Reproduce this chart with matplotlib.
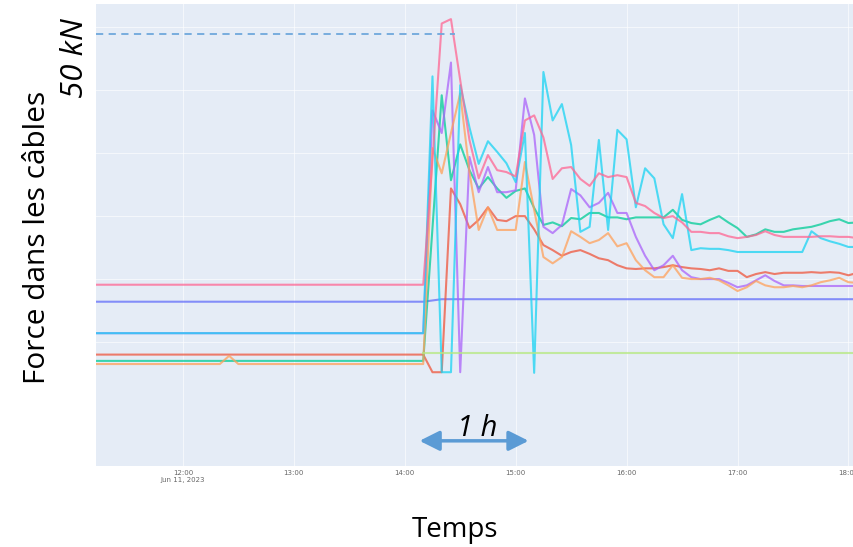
import numpy as np
import pandas as pd
import matplotlib
matplotlib.use("Agg")
import matplotlib.pyplot as plt
import matplotlib.dates as mdates

day = "2023-06-11 "

# x axis: hourly ticks (first one carries the date, plotly style)
tick_hours = ["12:00", "13:00", "14:00", "15:00", "16:00", "17:00", "18:00"]
tick_labels = ["12:00\nJun 11, 2023", "13:00", "14:00", "15:00", "16:00", "17:00", "18:00"]
grid_values = [0, 10, 20, 30, 40, 50]

# flat part before the load step (kN)
pre_times = ["11:10", "14:10"]
orange_pre_times = ["11:10", "12:20", "12:25", "12:30", "14:10"]

# samples every 5 min from 14:15 to 18:05
post_times = pd.date_range(day + "14:15", day + "18:05", freq="5min")

blue_times = ["11:10", "14:10", "14:20", "18:05"]
blue_vals = [6.4, 6.4, 6.8, 6.8]

lime_times = ["14:10", "18:05"]
lime_vals = [-1.75, -1.75]

red_pre = [-2.0, -2.0]
red_post = [-4.8, -4.8, 24.4, 21.9, 18.1, 19.4, 21.4, 19.4, 19.2, 20.0,
            20.0, 17.9, 15.4, 14.6, 13.7, 14.3, 14.6, 14.0, 13.3, 13.0,
            12.2, 11.7, 11.6, 11.7, 11.7, 11.9, 12.2, 11.9, 11.7, 11.6,
            11.4, 11.7, 11.3, 11.3, 10.3, 10.8, 11.1, 10.8, 11.0, 11.0,
            11.0, 11.1, 11.0, 11.1, 11.0, 10.6, 11.0]

green_pre = [-3.0, -3.0]
green_post = [18.1, 39.2, 25.7, 31.4, 27.3, 24.4, 26.2, 24.4, 22.9, 24.0,
              24.4, 21.3, 18.6, 19.0, 18.4, 19.7, 19.5, 20.5, 20.5, 19.8,
              19.8, 19.5, 19.8, 19.8, 19.8, 19.8, 21.0, 19.4, 18.9, 18.7,
              19.4, 20.0, 19.0, 18.1, 16.7, 17.1, 17.9, 17.5, 17.5, 17.9,
              18.1, 18.3, 18.7, 19.2, 19.5, 18.9, 19.0]

purple_pre = [1.4, 1.4]
purple_post = [36.8, 33.2, 44.4, -4.8, 29.4, 23.8, 27.8, 23.8, 23.8, 24.1,
               38.7, 32.9, 18.3, 17.3, 18.6, 24.3, 23.3, 21.4, 22.1, 23.7,
               20.5, 20.5, 16.7, 13.7, 11.4, 12.2, 13.7, 11.4, 10.3, 10.0,
               10.0, 10.0, 9.4, 8.7, 9.0, 9.8, 10.6, 9.7, 9.0, 9.0,
               8.9, 8.9, 8.9, 8.9, 8.9, 8.9, 8.9]

orange_pre = [-3.5, -3.5, -2.2, -3.5, -3.5]
orange_post = [30.8, 26.8, 33.2, 39.5, 27.0, 17.8, 21.4, 17.8, 17.8, 17.8,
               28.6, 21.0, 13.5, 12.5, 13.5, 17.6, 16.7, 15.7, 16.2, 17.3,
               15.2, 15.7, 13.0, 11.4, 10.3, 10.3, 12.2, 10.2, 10.0, 10.0,
               10.2, 9.8, 9.0, 8.1, 8.7, 9.7, 9.0, 8.7, 8.7, 8.9,
               8.7, 9.0, 9.5, 9.8, 10.2, 9.5, 9.4]

cyan_pre = [1.4, 1.4]
cyan_post = [42.2, -4.8, -4.8, 40.8, 34.1, 28.3, 31.9, 30.2, 28.4, 25.4,
             33.2, -4.9, 42.9, 35.2, 37.8, 31.3, 17.5, 18.3, 32.1, 17.8,
             33.7, 32.2, 21.4, 27.6, 26.0, 18.7, 16.5, 23.5, 14.6, 14.9,
             14.8, 14.8, 14.6, 14.3, 14.3, 14.3, 14.3, 14.3, 14.3, 14.3,
             14.3, 17.6, 16.5, 16.0, 15.6, 15.1, 15.1]

pink_pre = [9.1, 9.1]
pink_post = [28.9, 50.6, 51.3, 41.6, 32.1, 26.0, 29.7, 27.3, 27.0, 26.3,
             35.2, 36.0, 32.5, 25.9, 27.6, 27.8, 25.9, 24.8, 26.8, 26.2,
             26.5, 26.2, 22.1, 21.6, 20.5, 19.7, 20.0, 19.0, 17.5, 17.5,
             17.3, 17.3, 16.8, 16.5, 16.7, 17.0, 17.6, 17.0, 16.7, 16.7,
             16.7, 16.7, 16.8, 16.8, 16.7, 16.7, 16.5]

limit_kn = 49.0  # the "50 kN" dashed mark


def ts(hhmm):
    return mdates.date2num(pd.to_datetime([day + t for t in hhmm]).to_pydatetime())


post_num = mdates.date2num(post_times.to_pydatetime())

fig = plt.figure(figsize=(8.54, 5.47), dpi=100)
ax = fig.add_axes([96 / 854, 81 / 547, 758 / 854, 462 / 547])
ax.set_facecolor('#E5ECF6')
for s in ax.spines.values():
    s.set_visible(False)
ax.grid(True, color='white', lw=0.8, alpha=0.6)
ax.set_axisbelow(True)

lw, al = 1.5, 0.75
ax.plot(ts(blue_times), blue_vals, color='#636EFA', lw=lw, alpha=al)
ax.plot(np.concatenate([ts(pre_times), post_num]), red_pre + red_post, color='#EF553B', lw=lw, alpha=al)
ax.plot(np.concatenate([ts(pre_times), post_num]), green_pre + green_post, color='#00CC96', lw=lw, alpha=al)
ax.plot(np.concatenate([ts(pre_times), post_num]), purple_pre + purple_post, color='#AB63FA', lw=lw, alpha=al)
ax.plot(np.concatenate([ts(orange_pre_times), post_num]), orange_pre + orange_post, color='#FFA15A', lw=lw, alpha=al)
ax.plot(np.concatenate([ts(pre_times), post_num]), cyan_pre + cyan_post, color='#19D3F3', lw=lw, alpha=al)
ax.plot(np.concatenate([ts(pre_times), post_num]), pink_pre + pink_post, color='#FF6692', lw=lw, alpha=al)
ax.plot(ts(lime_times), lime_vals, color='#B6E880', lw=lw, alpha=al)

x0, x1 = ts(["11:13", "18:03"])
ax.set_xlim(x0, x1)
ax.set_ylim(-19.7, 53.7)

# 50 kN limit (dashed) up to the peak
ax.plot([x0, ts(["14:27"])[0]], [limit_kn, limit_kn], color='#6FA8DC', lw=1.3, dashes=(4, 3))

# 1 h double arrow
a0, a1 = ts(["14:08", "15:07"])
ax.annotate('', xy=(a1, -15.7), xytext=(a0, -15.7),
            arrowprops=dict(arrowstyle='<|-|>,head_length=0.6,head_width=0.3',
                            mutation_scale=20, color='#5B9BD5', lw=2.5,
                            shrinkA=0, shrinkB=0))

ax.set_xticks(ts(tick_hours))
ax.set_xticklabels(tick_labels, fontsize=5, color='#666666', linespacing=1.2)
ax.tick_params(axis='x', length=0, pad=3)
ax.set_yticks(grid_values)
ax.tick_params(axis='y', length=0, labelleft=False)

fnt = 'Open Sans'
fig.text(38 / 854, 1 - 237 / 547, 'Force dans les câbles', rotation=90, ha='center', va='center',
         fontsize=21.5, family=fnt)
fig.text(75 / 854, 1 - 58 / 547, '50 kN', rotation=90, ha='center', va='center',
         fontsize=22.5, style='italic', family=fnt)
fig.text(455 / 854, 1 - 530 / 547, 'Temps', ha='center', va='center', fontsize=20, family=fnt)
fig.text(477 / 854, 1 - 428 / 547, '1 h', ha='center', va='center', fontsize=21,
         style='italic', family=fnt)

fig.savefig('out.png', dpi=100)
